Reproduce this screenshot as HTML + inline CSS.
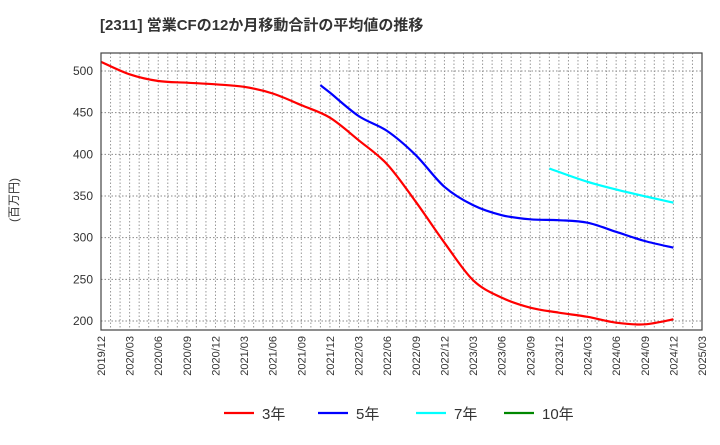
<!DOCTYPE html>
<html><head><meta charset="utf-8"><style>
body{margin:0;background:#fff;font-family:"Liberation Sans","Noto Sans CJK JP",sans-serif;}
svg text{font-family:"Liberation Sans","Noto Sans CJK JP",sans-serif;}
</style></head><body>
<svg id="c" width="720" height="440" xmlns="http://www.w3.org/2000/svg">
<text x="100" y="30" font-size="15" font-weight="bold" fill="#333">[2311]  営業CFの12か月移動合計の平均値の推移</text>
<text transform="translate(18,200) rotate(-90)" text-anchor="middle" font-size="12" fill="#333">(百万円)</text>
<g id="grid"></g><g id="series"></g><g id="axes"></g>
<g id="legend"></g>
</svg>
<script>
const xLabels=["2019/12","2020/03","2020/06","2020/09","2020/12","2021/03","2021/06","2021/09","2021/12","2022/03","2022/06","2022/09","2022/12","2023/03","2023/06","2023/09","2023/12","2024/03","2024/06","2024/09","2024/12","2025/03"];
const yTicks=[200,250,300,350,400,450,500];
const s3Months=[0,3,6,9,12,15,18,21,24,27,30,33,36,39,42,45,48,51,54,57,60];
const s3Values=[511,496,488,486,484,481,473,459,444,417,388,343,294,249,228,216,210,205,198,196,202];
const s5Months=[23,24,27,30,33,36,39,42,45,48,51,54,57,60];
const s5Values=[483,474,446,428,399,361,339,327,322,321,318,307,296,288];
const s7Months=[47,51,55,60];
const s7Values=[383,367,355,342];
const L=101,R=702,T=53,B=330;
const X=m=>L+m*(R-L)/63;
const Y=v=>321-(v-200)*250/300;
const NS="http://www.w3.org/2000/svg";
function mk(tag,attrs,parent){const e=document.createElementNS(NS,tag);for(const k in attrs)e.setAttribute(k,attrs[k]);parent.appendChild(e);return e;}
const grid=document.getElementById('grid'),axes=document.getElementById('axes'),ser=document.getElementById('series'),leg=document.getElementById('legend');
for(let m=1;m<63;m++){const l=mk('line',{x1:X(m),x2:X(m),y1:T,y2:B,stroke:'#999','stroke-dasharray':'1.5,2','stroke-width':1},grid);

}
yTicks.forEach(v=>{const l=mk('line',{x1:L,x2:R,y1:Y(v),y2:Y(v),stroke:'#888','stroke-dasharray':'1.5,2','stroke-width':1},grid);


const t=mk('text',{x:L-8,y:Y(v)+4,'text-anchor':'end','font-size':12,fill:'#333'},axes);t.textContent=v;

});
xLabels.forEach((s,i)=>{const t=mk('text',{transform:`translate(${X(i*3)+4},${B+6}) rotate(-90)`,'text-anchor':'end','font-size':11,fill:'#333'},axes);t.textContent=s;

});
const fr=mk('rect',{x:L,y:T,width:R-L,height:B-T,fill:'none',stroke:'#444','stroke-width':1.2},axes);


function path(ms,vs){const p=ms.map((m,i)=>[X(m),Y(vs[i])]);let d=`M${p[0][0]},${p[0][1]}`;
for(let i=0;i<p.length-1;i++){const p0=p[i-1]||p[i],p1=p[i],p2=p[i+1],p3=p[i+2]||p2;
d+=` C${p1[0]+(p2[0]-p0[0])/6},${p1[1]+(p2[1]-p0[1])/6} ${p2[0]-(p3[0]-p1[0])/6},${p2[1]-(p3[1]-p1[1])/6} ${p2[0]},${p2[1]}`;}return d;}
const r=mk('path',{d:path(s3Months,s3Values),fill:'none',stroke:'#f00','stroke-width':2.2},ser);


const b=mk('path',{d:path(s5Months,s5Values),fill:'none',stroke:'#00f','stroke-width':2.2},ser);


const c=mk('path',{d:path(s7Months,s7Values),fill:'none',stroke:'#0ff','stroke-width':2.2},ser);


[['3年','#f00',224],['5年','#00f',318],['7年','#0ff',416],['10年','#080',504]].forEach(([n,col,x])=>{
const g=mk('g',{},leg);


mk('line',{x1:x,x2:x+30,y1:413,y2:413,stroke:col,'stroke-width':2.2},g);
const t=mk('text',{x:x+38,y:419,'font-size':15,fill:'#333'},g);t.textContent=n;});
</script>
</body></html>
